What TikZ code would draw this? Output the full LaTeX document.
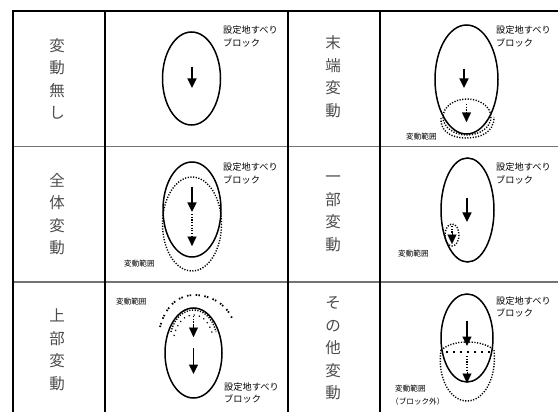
\documentclass[tikz,border=0pt]{standalone}
\usepackage{fontspec}
\newfontfamily\jp{Noto Sans CJK JP}
\usetikzlibrary{arrows.meta}
\tikzset{
  grid/.style={line width=1.1pt, black},
  border/.style={line width=2pt, black},
  hline/.style={line width=1.8pt, black!55},
  solid ell/.style={line width=1.5pt, black},
  dotline/.style={line width=1.4pt, black, dash pattern=on 1.2pt off 1.5pt},
  sarrow/.style={line width=1.5pt, -{Triangle[width=9pt,length=9.5pt]}},
  headonly/.style={-{Triangle[width=9pt,length=9.5pt]}, line width=0.1pt},
  lab/.style={font=\jp\fontsize{9.2}{10}\selectfont, inner sep=0pt, anchor=base west},
  hanilab/.style={font=\jp\fontsize{7.6}{9}\selectfont, inner sep=0pt, anchor=base west},
  coltext/.style={font=\jp\fontsize{15.5}{22.5}\selectfont, text=black!70, align=center, inner sep=0pt},
}
\begin{document}
\begin{tikzpicture}[x=1pt,y=-1pt]
\useasboundingbox (0,0) rectangle (558,412);
% table
\draw[hline] (13,146.5) -- (558,146.5);
\draw[hline] (13,282) -- (558,282);
\draw[grid] (105,11) -- (105,412);
\draw[grid] (288,11) -- (288,412);
\draw[grid] (380,11) -- (380,412);
\draw[border] (13,412) -- (13,11) -- (558,11);

% column texts
\node[coltext] (t1) at (57,79) {\fontsize{15.5}{24.5}\selectfont 変\\動\\無\\し};
\node[coltext] (t2) at (333,76.5) {\fontsize{15.5}{21}\selectfont 末\\端\\変\\動};
\node[coltext] (t3) at (57,214) {全\\体\\変\\動};
\node[coltext] (t4) at (333,214) {一\\部\\変\\動};
\node[coltext] (t5) at (57,350) {\fontsize{15.5}{22}\selectfont 上\\部\\変\\動};
\node[coltext] (t6) at (333,348.5) {\fontsize{15.5}{21.7}\selectfont そ\\の\\他\\変\\動};

% ---- A: no change
\draw[solid ell] (191.5,78.5) ellipse [x radius=29, y radius=46.5];
\draw[sarrow] (192,67) -- (192,88);
\node[lab] (a1) at (223,34) {設定地すべり};
\node[lab] (a2) at (223,46.5) {ブロック};

% ---- B: end change
\draw[solid ell] (466.5,79.5) ellipse [x radius=31.5, y radius=54.5];
\draw[sarrow] (464,69) -- (464,88);
\draw[dotline] (467,117) ellipse [x radius=24, y radius=18];
\draw[dotline] (441,118) .. controls (440,132) and (452,138) .. (466,138) .. controls (480,138) and (494,133) .. (494,117);
\draw[dotline] (466.5,104) -- (466.5,112);
\draw[headonly] (466.5,112) -- (466.5,122);
\node[lab] (b1) at (496,34) {設定地すべり};
\node[lab] (b2) at (496,47) {ブロック};
\node[hanilab] (b3) at (406,139.5) {変動範囲};

% ---- C: whole change
\draw[dotline] (192,224) ellipse [x radius=29.5, y radius=47];
\draw[solid ell] (192,209.5) ellipse [x radius=29, y radius=47.5];
\draw[sarrow] (192,187) -- (192,212);
\draw[dotline] (192,214) -- (192,236);
\draw[headonly] (192,236) -- (192,246);
\node[lab] (c1) at (223,171) {設定地すべり};
\node[lab] (c2) at (223,183.5) {ブロック};
\node[hanilab] (c3) at (124,266) {変動範囲};

% ---- D: partial change
\draw[solid ell] (467.5,210) ellipse [x radius=26.5, y radius=52];
\draw[sarrow] (467,198) -- (467,222);
\draw[dotline] (452,235) ellipse [x radius=7, y radius=11];
\draw[dotline] (452,226) -- (452,233);
\draw[headonly] (452,233) -- (452,244);
\node[lab] (d1) at (496,171) {設定地すべり};
\node[lab] (d2) at (496,183.5) {ブロック};
\node[hanilab] (d3) at (398,256) {変動範囲};

% ---- E: upper change
\draw[solid ell] (193.5,353) ellipse [x radius=28.5, y radius=45];
\draw[dotline] (171,332) .. controls (175,316) and (185,310) .. (193.5,310) .. controls (202,310) and (212,316) .. (216,332);
\draw[line width=1.2pt, dash pattern=on 1.2pt off 4pt] (174,336) .. controls (178,320) and (186,315) .. (193.5,315) .. controls (201,315) and (209,320) .. (213,336);
\draw[line width=1.8pt, dash pattern=on 1.5pt off 1.2pt on 1.5pt off 4.5pt] (160,327) .. controls (166,304) and (180,295) .. (194,295) .. controls (210,295) and (225,303) .. (232,318);
\draw[dotline] (193.5,316) -- (193.5,325);
\draw[headonly] (193.5,325) -- (193.5,337);
\draw[sarrow] (193.5,348) -- (193.5,374);
\node[lab] (e1) at (224,390.5) {設定地すべり};
\node[lab] (e2) at (224,402.5) {ブロック};
\node[hanilab] (e3) at (116,305) {変動範囲};

% ---- F: other change
\draw[solid ell] (467,338) ellipse [x radius=26, y radius=44];
\draw[sarrow] (467,321) -- (467,346);
\draw[dotline] (441,350) .. controls (450,343) and (460,342) .. (467,342) .. controls (474,342) and (486,343) .. (494,350);
\draw[line width=1.3pt, dash pattern=on 2pt off 5pt] (446,352) -- (490,352);
\draw[dotline] (441,350) .. controls (437,378) and (450,401) .. (467,401) .. controls (484,401) and (497,378) .. (494,350);
\draw[dotline] (467,356) -- (467,372);
\draw[headonly] (467,372) -- (467,383);
\node[lab] (f1) at (496,304.5) {設定地すべり};
\node[lab] (f2) at (496,316.5) {ブロック};
\node[hanilab] (f3) at (395,391) {変動範囲};
\node[hanilab] (f4) at (391,404) {（ブロック外）};
\end{tikzpicture}
\end{document}
